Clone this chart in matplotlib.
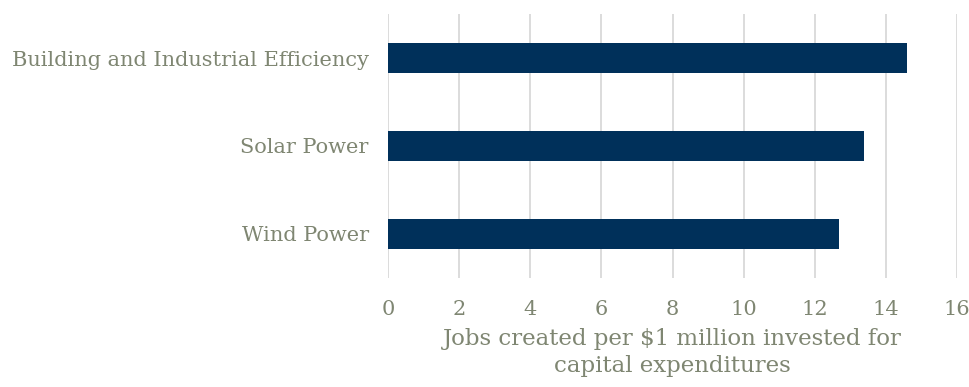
import matplotlib
matplotlib.use('Agg')
import matplotlib.pyplot as plt

# data (bottom to top as drawn)
categories = ['Wind Power', 'Solar Power', 'Building and Industrial Efficiency']
jobs = [12.7, 13.4, 14.6]
xticks = [0, 2, 4, 6, 8, 10, 12, 14, 16]

bar_color = '#00305a'
text_color = '#7f8672'
grid_color = '#d9d9d9'

plt.rcParams['font.family'] = ['DejaVu Serif']

fig = plt.figure(figsize=(9.7, 3.87), dpi=100)
ax = fig.add_axes([0.4003, 0.2817, 0.586, 0.6821])

ax.barh(categories, jobs, height=0.34, color=bar_color, zorder=3)
ax.set_xlim(0, 16)
ax.set_ylim(-0.5, 2.5)
ax.set_xticks(xticks)
ax.set_xticklabels([str(t) for t in xticks])
ax.grid(axis='x', color=grid_color, linewidth=1.3, zorder=0)
for s in ax.spines.values():
    s.set_visible(False)
ax.tick_params(axis='both', length=0, labelcolor=text_color, labelsize=15)
ax.tick_params(axis='x', pad=16)
ax.tick_params(axis='y', pad=14)

ax.set_xlabel('Jobs created per $1 million invested for\ncapital expenditures',
              color=text_color, fontsize=16.5, labelpad=6, linespacing=1.35)

fig.savefig('out.png', dpi=100, facecolor='white')
